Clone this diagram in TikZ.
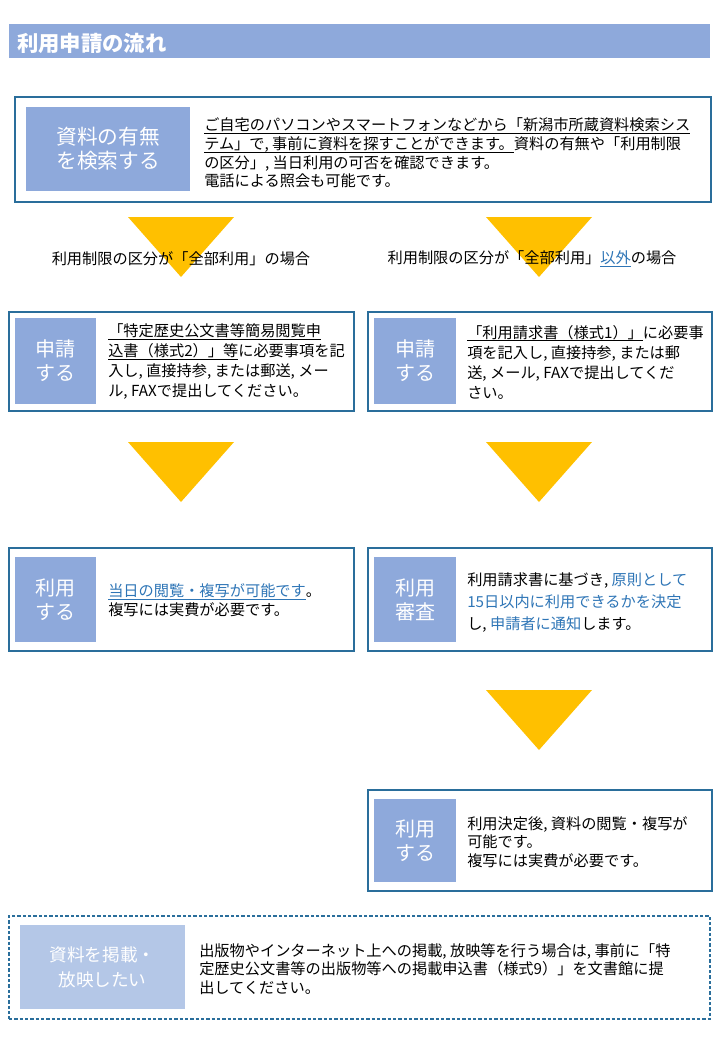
\documentclass[tikz,border=0pt]{standalone}
\usepackage{fontspec}
\setmainfont{Noto Sans CJK JP}

\definecolor{headblue}{HTML}{8EA9DB}
\definecolor{paleblue}{HTML}{B4C7E7}
\definecolor{framecol}{HTML}{2A6E9B}
\definecolor{linkblue}{HTML}{2E75B6}
\definecolor{arrowgold}{HTML}{FFC000}

\newcommand{\uln}[1]{\setbox0\hbox{#1}\rlap{\rule[-2.2pt]{\wd0}{0.55pt}}\box0}
\newcommand{\bl}[1]{\textcolor{linkblue}{#1}}
\newcommand{\blu}[1]{\textcolor{linkblue}{\uln{#1}}}

\begin{document}
\begin{tikzpicture}[x=0.75pt,y=-0.75pt,
    size/.style 2 args={minimum width=#1*0.75pt,minimum height=#2*0.75pt},
    frame/.style={draw=framecol,line width=0.9pt,inner sep=0},
    tag/.style={fill=headblue,text=white,align=center,inner sep=0,
        font=\fontsize{15}{18}\selectfont},
    body/.style={anchor=west,align=left,inner sep=0,
        font=\fontsize{11.4}{14}\selectfont},
    arrowfill/.style={fill=arrowgold}]

\useasboundingbox (0,0) rectangle (720,1040);

% title bar
\node[fill=headblue,inner sep=0,size={701}{34}] (head) at (359.5,41) {};
\node[anchor=west,inner sep=0,text=white,font=\bfseries\fontsize{16}{18}\selectfont]
    (title) at (17,43) {利用申請の流れ};

% arrows
\foreach \cx/\ty in {181/217, 539/217, 181/442, 539/442, 539/690}{
    \fill[arrowfill] (\cx-53,\ty) -- (\cx+53,\ty) -- (\cx,\ty+60) -- cycle;
}

% step 1
\node[frame,size={696}{105}] (search) at (363,149.5) {};
\node[tag,size={164}{84},font=\fontsize{15.5}{18}\selectfont] (searchtag) at (108,149) {資料の有無\\を検索する};
\node[body] (searchtxt) at (204,153) {\uln{ご自宅のパソコンやスマートフォンなどから「新潟市所蔵資料検索シス}\\
\uln{テム」で, 事前に資料を探すことができます。}資料の有無や「利用制限\\
の区分」, 当日利用の可否を確認できます。\\
電話による照会も可能です。};

% branch labels
\node[inner sep=0,font=\fontsize{11.4}{14}\selectfont] (caseall) at (181,259) {利用制限の区分が「全部利用」の場合};
\node[inner sep=0,font=\fontsize{11.4}{14}\selectfont] (caseother) at (532,259) {利用制限の区分が「全部利用」\blu{以外}の場合};

% step 2
\node[frame,size={345}{99}] (applyL) at (181.5,361.5) {};
\node[tag,size={81}{86}] (applyLtag) at (55.5,361) {申請\\する};
\node[body,font=\fontsize{11.4}{15}\selectfont] (applyLtxt) at (108,362) {\uln{「特定歴史公文書等簡易閲覧申}\\
\uln{込書（様式2）」等}に必要事項を記\\
入し, 直接持参, または郵送, メー\\
ル, FAXで提出してください。};

\node[frame,size={344}{99}] (applyR) at (540,361.5) {};
\node[tag,size={82}{86}] (applyRtag) at (415,361) {申請\\する};
\node[body,font=\fontsize{11.4}{15}\selectfont] (applyRtxt) at (467,362) {\uln{「利用請求書（様式1）」}に必要事\\
項を記入し, 直接持参, または郵\\
送, メール, FAXで提出してくだ\\
さい。};

% step 3
\node[frame,size={345}{103}] (useL) at (181.5,599.5) {};
\node[tag,size={81}{85}] (useLtag) at (55.5,599.5) {利用\\する};
\node[body] (useLtxt) at (108,600) {\blu{当日の閲覧・複写が可能です}。\\
複写には実費が必要です。};

\node[frame,size={344}{103}] (check) at (540,599.5) {};
\node[tag,size={82}{85}] (checktag) at (415,599.5) {利用\\審査};
\node[body,font=\fontsize{11.4}{16.5}\selectfont] (checktxt) at (467,603) {利用請求書に基づき, \bl{原則として}\\
\bl{15日以内に利用できるかを決定}\\
し, \bl{申請者に通知}します。};

% step 4
\node[frame,size={344}{101}] (useR) at (540,840.5) {};
\node[tag,size={82}{83}] (useRtag) at (415,840.5) {利用\\する};
\node[body] (useRtxt) at (467,842) {利用決定後, 資料の閲覧・複写が\\
可能です。\\
複写には実費が必要です。};

% publishing note
\node[draw=framecol,line width=0.9pt,dash pattern=on 2.5pt off 1.5pt,inner sep=0,size={701}{103}] (publish) at (359.5,967.5) {};
\node[tag,fill=paleblue,size={165}{84},font=\fontsize{13.2}{18.5}\selectfont] (publishtag) at (102.5,967) {資料を掲載・\\放映したい};
\node[body] (publishtxt) at (199,969) {出版物やインターネット上への掲載, 放映等を行う場合は, 事前に「特\\
定歴史公文書等の出版物等への掲載申込書（様式9）」を文書館に提\\
出してください。};

\end{tikzpicture}
\end{document}
